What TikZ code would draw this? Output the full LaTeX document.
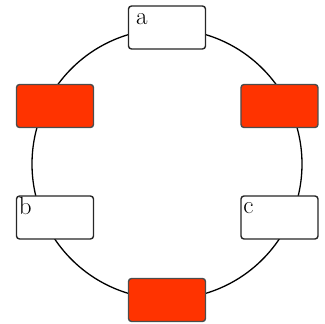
\documentclass[tikz,border=0pt]{standalone}
\definecolor{boxred}{RGB}{255,51,0}
\tikzset{
  slot/.style={draw=black!85, line width=1.4pt, rounded corners=3pt, minimum width=77pt, minimum height=43pt, inner sep=0pt, fill=white},
  redslot/.style={slot, fill=boxred, draw=black!70},
  lbl/.style={anchor=base west, inner sep=0pt, font=\fontsize{25}{25}\selectfont}
}
\begin{document}
\begin{tikzpicture}[x=1pt,y=-1pt]
\useasboundingbox (0,0) rectangle (325,324);
\coordinate (ctr) at (167,164);
\draw[line width=1.3pt] (ctr) circle[radius=135pt];
\node[slot] (a) at (167,27.5) {};
\node[redslot] (r1) at (55,106) {};
\node[redslot] (r2) at (279.5,106) {};
\node[slot] (b) at (55,217.5) {};
\node[slot] (c) at (279.5,217.5) {};
\node[redslot] (r3) at (167,300) {};
\node[lbl] (ta) at ([xshift=8pt,yshift=-19pt]a.north west) {a};
\node[lbl] (tb) at ([xshift=3pt,yshift=-19pt]b.north west) {b};
\node[lbl] (tc) at ([xshift=3pt,yshift=-18pt]c.north west) {c};
\end{tikzpicture}
\end{document}
